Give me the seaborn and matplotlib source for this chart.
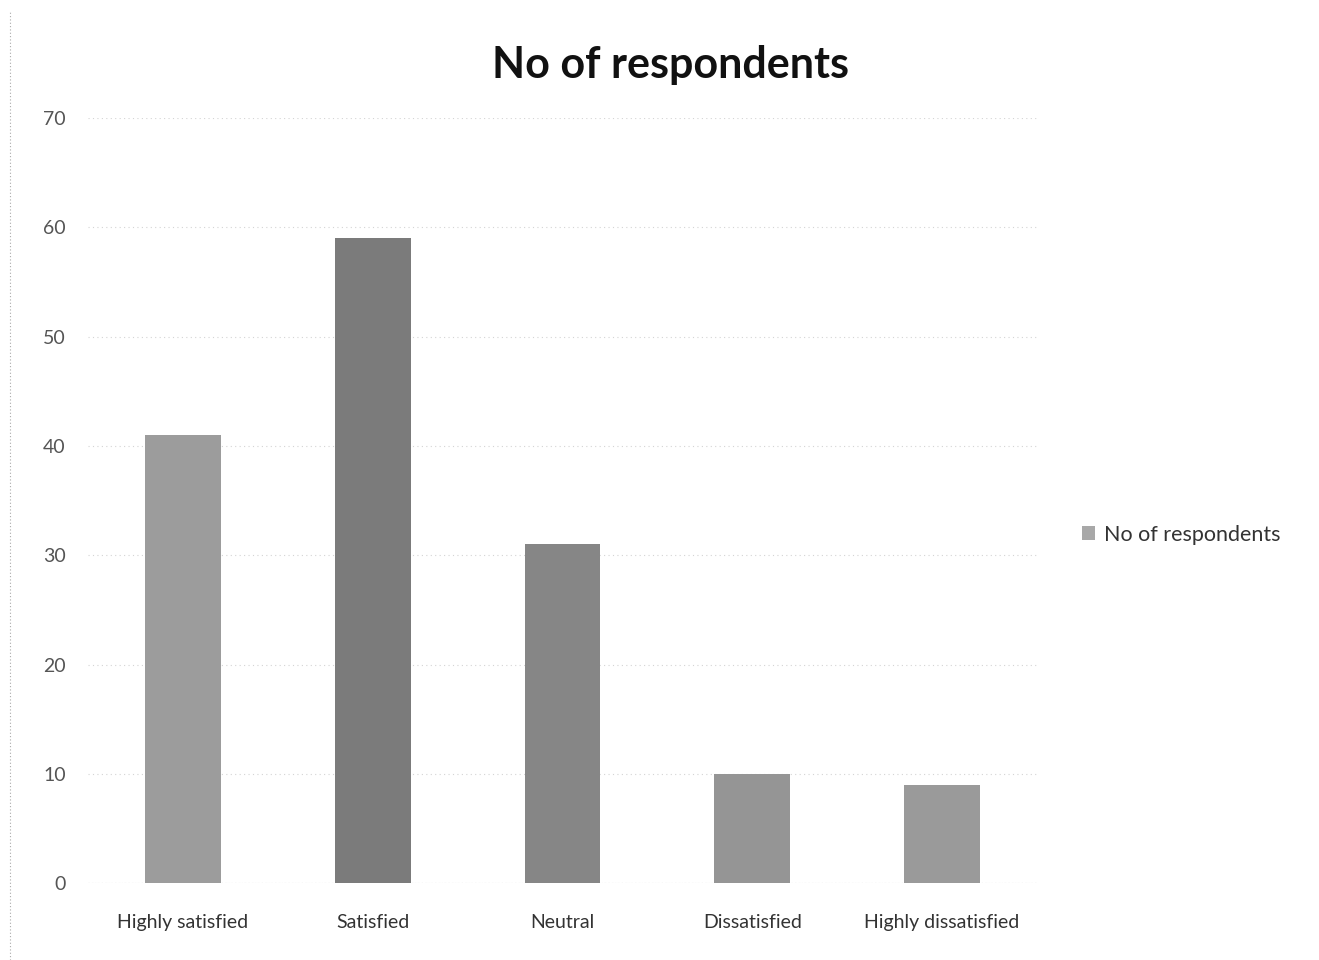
import matplotlib
matplotlib.use("Agg")
import matplotlib.pyplot as plt
from matplotlib.patches import Patch
import seaborn as sns
import pandas as pd

categories = ["Highly satisfied", "Satisfied", "Neutral", "Dissatisfied", "Highly dissatisfied"]
respondents = [41, 59, 31, 10, 9]
y_ticks = [0, 10, 20, 30, 40, 50, 60, 70]
series_name = "No of respondents"

bar_grays = ["#9c9c9c", "#7b7b7b", "#868686", "#959595", "#9a9a9a"]

sns.set_theme(style="white")
plt.rcParams["font.family"] = ["Lato", "DejaVu Sans"]

df = pd.DataFrame({"category": categories, "count": respondents})

fig = plt.figure(figsize=(13.19, 9.6), dpi=100)
ax = fig.add_axes([0.0667, 0.080, 0.7195, 0.797])

sns.barplot(data=df, x="category", y="count", hue="category",
            palette=bar_grays, width=0.4, legend=False, ax=ax,
            edgecolor="none", saturation=1)

ax.set_ylim(0, 70)
ax.set_xlim(-0.5, len(categories) - 0.5)
ax.set_yticks(y_ticks)
ax.set_yticklabels([str(t) for t in y_ticks], fontsize=14, color="#555555")
ax.tick_params(axis="x", labelsize=14, labelcolor="#333333", pad=22, length=0)
ax.tick_params(axis="y", pad=16, length=0)
ax.set_xlabel("")
ax.set_ylabel("")

for s in ax.spines.values():
    s.set_visible(False)

ax.set_axisbelow(True)
ax.yaxis.grid(True, linestyle=(0, (1, 3)), color="#d4d4d4", linewidth=0.8)
ax.axhline(0, linestyle=(0, (1, 2)), color="#bbbbbb", linewidth=0.8, zorder=0)

fig.text(0.508, 0.932, "No of respondents", ha="center", va="center",
         fontsize=31, fontweight="bold", color="#111111")

handle = Patch(facecolor="#a8a8a8", edgecolor="none", label=series_name)
fig.legend(handles=[handle], loc="center left", bbox_to_anchor=(0.806, 0.443),
           frameon=False, fontsize=15.5, handlelength=0.6, handleheight=0.6,
           handletextpad=0.4, labelcolor="#333333")

# thin dotted frame line along the left edge
fig.add_artist(plt.Line2D([0.0076, 0.0076], [0.0, 0.99], transform=fig.transFigure,
                          linestyle=(0, (1, 2)), color="#aaaaaa", linewidth=0.8))

fig.savefig("out.png", dpi=100)
